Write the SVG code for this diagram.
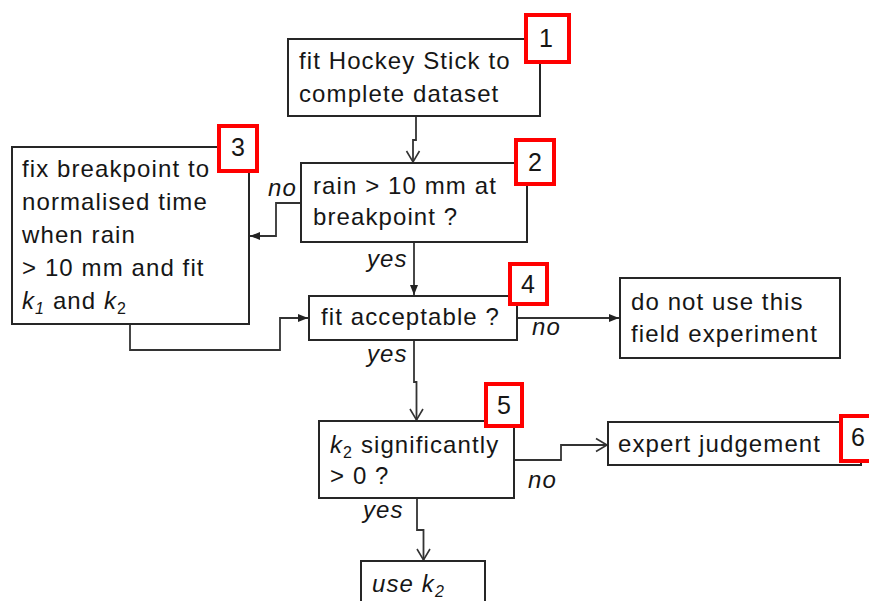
<svg xmlns="http://www.w3.org/2000/svg" width="869" height="601" viewBox="0 0 869 601">
<style>
.box{fill:#fff;stroke:#262626;stroke-width:2}
.tag{fill:#fff;stroke:#ff0000;stroke-width:4}
.t{font-family:"Liberation Sans",Arial,sans-serif;font-size:24px;letter-spacing:1.1px;fill:#161616}
.n{font-family:"Liberation Sans",Arial,sans-serif;font-size:25px;fill:#161616;text-anchor:middle}
.i{font-style:italic}
.c{fill:none;stroke:#333;stroke-width:1.8}
.sub{font-size:16px}
</style>
<defs>
<marker id="af" markerUnits="userSpaceOnUse" markerWidth="12" markerHeight="10" refX="10" refY="5" orient="auto"><path d="M0,1 L10,5 L0,9 z" fill="#222"/></marker>
<marker id="ao" markerUnits="userSpaceOnUse" markerWidth="14" markerHeight="16" refX="12" refY="8" orient="auto"><path d="M1,1.5 L12,8 L1,14.5" fill="none" stroke="#333" stroke-width="1.6"/></marker>
</defs>
<rect width="869" height="601" fill="#fff"/>
<g id="connectors">
<path class="c" d="M416,116 V140 H413 V162" marker-end="url(#ao)"/>
<path class="c" d="M301,203 H276 V236 H250" marker-end="url(#af)"/>
<path class="c" d="M414,242 V295" marker-end="url(#af)"/>
<path class="c" d="M130,324 V350 H280 V318 H308" marker-end="url(#af)"/>
<path class="c" d="M517,318 H619" marker-end="url(#af)"/>
<path class="c" d="M414,340 V382 H416.5 V420" marker-end="url(#ao)"/>
<path class="c" d="M514,460 H561 V445 H607" marker-end="url(#ao)"/>
<path class="c" d="M417,498 V530 H423.5 V560" marker-end="url(#ao)"/>
<text class="t i" x="268" y="196">no</text>
<text class="t i" x="367" y="267">yes</text>
<text class="t i" x="532" y="335">no</text>
<text class="t i" x="367" y="362">yes</text>
<text class="t i" x="528" y="488">no</text>
<text class="t i" x="363" y="518">yes</text>
</g>
<g id="n1">
<rect class="box" x="288" y="39" width="252" height="77"/>
<text class="t" x="299" y="69">fit Hockey Stick to</text>
<text class="t" x="299" y="102">complete  dataset</text>
<rect class="tag" x="526" y="15" width="43" height="47"/>
<text class="n" x="546" y="47">1</text>
</g>
<g id="n2">
<rect class="box" x="301" y="163" width="226" height="79"/>
<text class="t" x="313" y="194">rain &gt; 10 mm  at</text>
<text class="t" x="313" y="225">breakpoint ?</text>
<rect class="tag" x="516" y="140" width="38" height="44"/>
<text class="n" x="535" y="171">2</text>
</g>
<g id="n3">
<rect class="box" x="12" y="147" width="237" height="177"/>
<text class="t" x="22" y="177">fix breakpoint to</text>
<text class="t" x="22" y="210">normalised  time</text>
<text class="t" x="22" y="243">when  rain</text>
<text class="t" x="22" y="276">&gt; 10 mm and fit</text>
<text class="t" x="22" y="309"><tspan class="i">k</tspan><tspan class="i sub" dy="5">1</tspan><tspan dy="-5"> and </tspan><tspan class="i">k</tspan><tspan class="sub" dy="5">2</tspan></text>
<rect class="tag" x="219" y="126" width="38" height="45"/>
<text class="n" x="238" y="156">3</text>
</g>
<g id="n4">
<rect class="box" x="309" y="296" width="208" height="44"/>
<text class="t" x="321" y="325">fit acceptable  ?</text>
<rect class="tag" x="510" y="264" width="37" height="40"/>
<text class="n" x="528" y="293">4</text>
</g>
<g id="n5">
<rect class="box" x="620" y="278" width="220" height="80"/>
<text class="t" x="631" y="310">do not use this</text>
<text class="t" x="631" y="342">field experiment</text>
</g>
<g id="n6">
<rect class="box" x="319" y="421" width="195" height="77"/>
<text class="t" x="330" y="453"><tspan class="i">k</tspan><tspan class="sub" dy="5">2</tspan><tspan dy="-5"> significantly</tspan></text>
<text class="t" x="330" y="484">&gt; 0 ?</text>
<rect class="tag" x="486" y="384" width="36" height="42"/>
<text class="n" x="504" y="414">5</text>
</g>
<g id="n7">
<rect class="box" x="608" y="422" width="253" height="43"/>
<text class="t" x="618" y="452">expert  judgement</text>
<rect class="tag" x="841" y="416" width="36" height="45"/>
<text class="n" x="858" y="446">6</text>
</g>
<g id="n8">
<rect class="box" x="361" y="561" width="124" height="60"/>
<text class="t i" x="372" y="592">use k<tspan class="sub" dy="5">2</tspan></text>
</g>
</svg>
